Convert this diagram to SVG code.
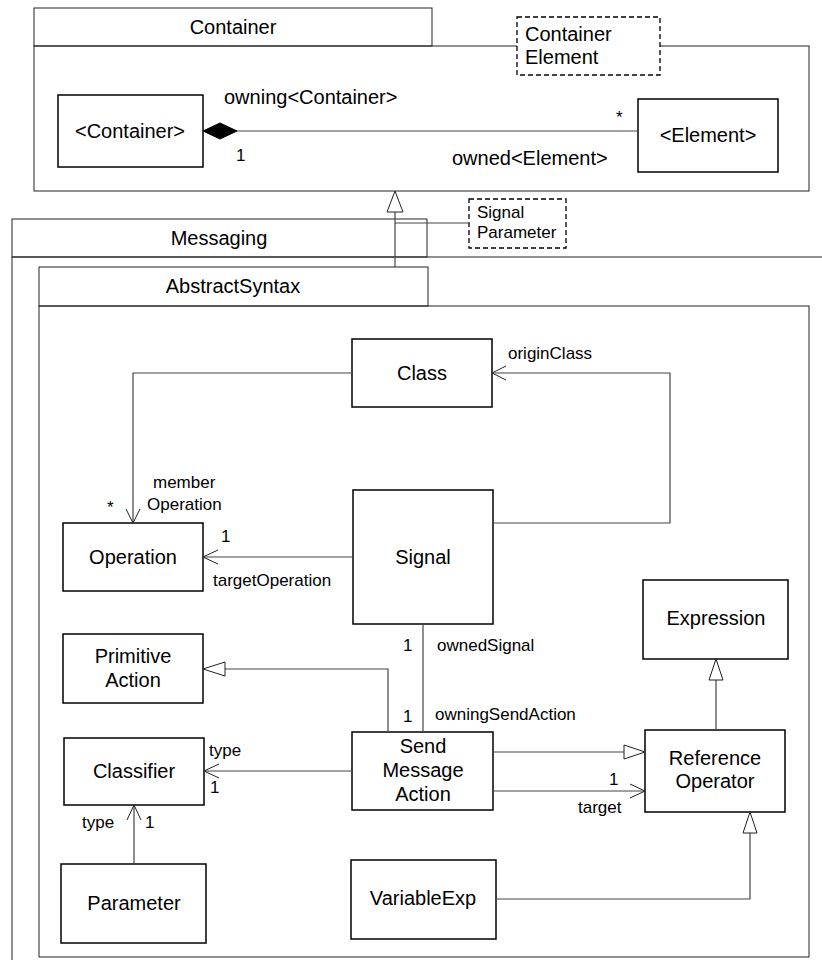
<svg xmlns="http://www.w3.org/2000/svg" width="822" height="975" viewBox="0 0 822 975">
<style>
text{font-family:"Liberation Sans",Arial,sans-serif;fill:#000}
.n{font-size:20px;text-anchor:middle}
.l{font-size:17px}
.b{font-size:20px}
.pk{fill:none;stroke:#222;stroke-width:1}
.node{fill:#fff;stroke:#000;stroke-width:1.5}
.note{fill:#fff;stroke:#000;stroke-width:1.3;stroke-dasharray:5,3}
.c{fill:none;stroke:#444;stroke-width:1.2}
.tri{fill:#fff;stroke:#222;stroke-width:1}
.oa{fill:none;stroke:#222;stroke-width:1}
</style>
<rect width="822" height="975" fill="#fff"/>

<g id="pkg-container">
<rect class="pk" x="34" y="8" width="398" height="38"/>
<rect class="pk" x="34" y="46" width="775" height="145"/>
<text class="n" x="233" y="34">Container</text>
</g>

<g id="note-container-element">
<rect class="note" x="517" y="17" width="143" height="58"/>
<text class="b" x="525" y="41">Container</text>
<text class="b" x="525" y="64">Element</text>
</g>

<g id="pkg-messaging">
<rect class="pk" x="12" y="219" width="415" height="38"/>
<path class="pk" d="M12,960 L12,257 L823,257"/>
<text class="n" x="219" y="245">Messaging</text>
</g>

<g id="note-signal-parameter">
<rect class="note" x="469" y="199" width="97" height="49"/>
<text class="l" x="477" y="218">Signal</text>
<text class="l" x="477" y="238">Parameter</text>
</g>

<g id="pkg-abstractsyntax">
<rect class="pk" x="39" y="267" width="389" height="39"/>
<rect class="pk" x="39" y="306" width="770" height="651"/>
<text class="n" x="233" y="293">AbstractSyntax</text>
</g>

<g id="n-container">
<rect class="node" x="58" y="95" width="145" height="72"/>
<text class="n" x="130" y="138">&lt;Container&gt;</text>
</g>
<g id="n-element">
<rect class="node" x="638" y="99" width="140" height="73"/>
<text class="n" x="708" y="142">&lt;Element&gt;</text>
</g>
<g id="n-class">
<rect class="node" x="352" y="339" width="140" height="68"/>
<text class="n" x="422" y="380">Class</text>
</g>
<g id="n-signal">
<rect class="node" x="353" y="490" width="140" height="134"/>
<text class="n" x="423" y="564">Signal</text>
</g>
<g id="n-operation">
<rect class="node" x="63" y="523" width="140" height="68"/>
<text class="n" x="133" y="564">Operation</text>
</g>
<g id="n-primitiveaction">
<rect class="node" x="63" y="634" width="140" height="69"/>
<text class="n" x="133" y="663">Primitive</text>
<text class="n" x="133" y="687">Action</text>
</g>
<g id="n-classifier">
<rect class="node" x="64" y="738" width="140" height="67"/>
<text class="n" x="134" y="778">Classifier</text>
</g>
<g id="n-parameter">
<rect class="node" x="61" y="864" width="145" height="79"/>
<text class="n" x="134" y="910">Parameter</text>
</g>
<g id="n-sendmessageaction">
<rect class="node" x="352" y="732" width="141" height="78"/>
<text class="n" x="423" y="753">Send</text>
<text class="n" x="423" y="777">Message</text>
<text class="n" x="423" y="801">Action</text>
</g>
<g id="n-expression">
<rect class="node" x="643" y="580" width="145" height="79"/>
<text class="n" x="716" y="625">Expression</text>
</g>
<g id="n-referenceoperator">
<rect class="node" x="645" y="730" width="140" height="82"/>
<text class="n" x="715" y="765">Reference</text>
<text class="n" x="715" y="788">Operator</text>
</g>
<g id="n-variableexp">
<rect class="node" x="351" y="860" width="145" height="79"/>
<text class="n" x="423" y="905">VariableExp</text>
</g>

<g id="connectors">
<!-- composition -->
<line class="c" x1="237" y1="131" x2="638" y2="131"/>
<polygon points="203,131 220,123 237,131 220,139" fill="#000" stroke="#000"/>
<text class="b" x="224" y="104">owning&lt;Container&gt;</text>
<text class="l" x="236" y="161">1</text>
<text class="l" x="616" y="123">*</text>
<text class="b" x="452" y="165">owned&lt;Element&gt;</text>

<!-- AbstractSyntax -> Container generalization -->
<line class="c" x1="395" y1="267" x2="395" y2="212"/>
<polygon class="tri" points="395,191 387,212 403,212"/>
<line class="c" x1="395" y1="223" x2="469" y2="223"/>

<!-- Class -> Operation memberOperation -->
<polyline class="c" points="352,373 133,373 133,523"/>
<polyline class="oa" points="126,509 133,523 140,509"/>
<text class="l" x="153" y="488">member</text>
<text class="l" x="147" y="510">Operation</text>
<text class="l" x="107" y="513">*</text>

<!-- Signal -> Class originClass -->
<polyline class="c" points="493,523 670,523 670,373 492,373"/>
<polyline class="oa" points="506,366 492,373 506,380"/>
<text class="l" x="508" y="359">originClass</text>

<!-- Signal -> Operation targetOperation -->
<line class="c" x1="353" y1="557" x2="203" y2="557"/>
<polyline class="oa" points="218,550 203,557 218,564"/>
<text class="l" x="221" y="542">1</text>
<text class="l" x="213" y="586">targetOperation</text>

<!-- SMA -> PrimitiveAction generalization -->
<polyline class="c" points="388,732 388,669 225,669"/>
<polygon class="tri" points="203,669 225,662 225,676"/>

<!-- Signal - SMA -->
<line class="c" x1="423" y1="624" x2="423" y2="732"/>
<text class="l" x="403" y="651">1</text>
<text class="l" x="437" y="651">ownedSignal</text>
<text class="l" x="403" y="722">1</text>
<text class="l" x="435" y="720">owningSendAction</text>

<!-- SMA -> Classifier type -->
<line class="c" x1="352" y1="771" x2="204" y2="771"/>
<polyline class="oa" points="219,764 204,771 219,778"/>
<text class="l" x="209" y="756">type</text>
<text class="l" x="210" y="793">1</text>

<!-- Parameter -> Classifier type -->
<line class="c" x1="134" y1="864" x2="134" y2="805"/>
<polyline class="oa" points="127,820 134,805 141,820"/>
<text class="l" x="82" y="828">type</text>
<text class="l" x="145" y="828">1</text>

<!-- SMA -> ReferenceOperator generalization -->
<line class="c" x1="493" y1="752" x2="624" y2="752"/>
<polygon class="tri" points="645,752 624,745 624,759"/>

<!-- SMA -> ReferenceOperator target -->
<line class="c" x1="493" y1="791" x2="645" y2="791"/>
<polyline class="oa" points="630,784 645,791 630,798"/>
<text class="l" x="609" y="785">1</text>
<text class="l" x="578" y="813">target</text>

<!-- ReferenceOperator -> Expression generalization -->
<line class="c" x1="716" y1="730" x2="716" y2="680"/>
<polygon class="tri" points="716,659 709,680 723,680"/>

<!-- VariableExp -> ReferenceOperator generalization -->
<polyline class="c" points="496,899 750,899 750,833"/>
<polygon class="tri" points="750,812 743,833 757,833"/>
</g>
</svg>
